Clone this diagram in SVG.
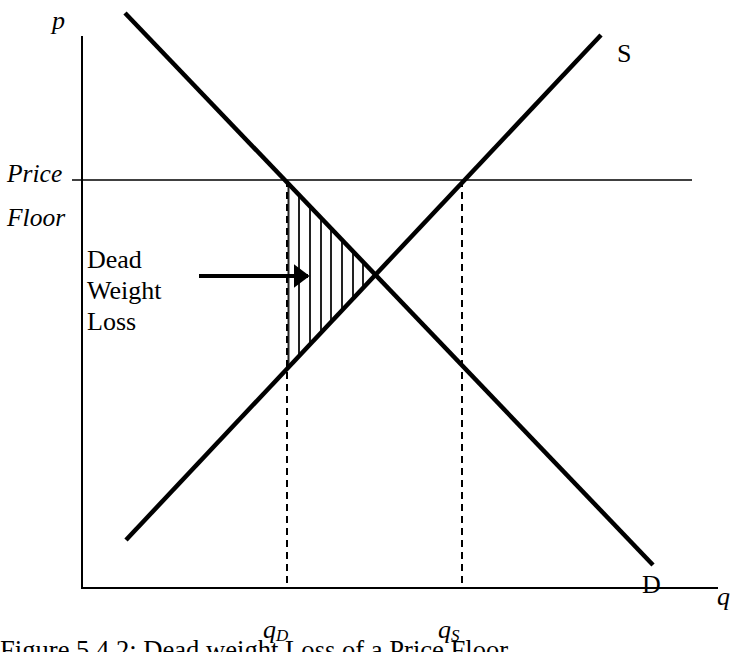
<svg xmlns="http://www.w3.org/2000/svg" width="731" height="652" viewBox="0 0 731 652">
<style>
.t{font-family:"Liberation Serif","Times New Roman",serif;fill:#000}
.i{font-style:italic}
.thick{stroke:#000;stroke-width:4.5;fill:none}
.axis{stroke:#000;stroke-width:2;fill:none}
.dash{stroke:#000;stroke-width:2;stroke-dasharray:7 5;fill:none}
.hatch{stroke:#222;stroke-width:2}
</style>
<defs>
<marker id="ah" markerWidth="4" markerHeight="6" refX="3.6" refY="3" orient="auto" markerUnits="strokeWidth">
<path d="M0,0 L4,3 L0,6 Z" fill="#000"/>
</marker>
</defs>
<g id="hatching">
<line class="hatch" x1="288.5" y1="182" x2="288.5" y2="367"/>
<line class="hatch" x1="299" y1="193" x2="299" y2="357"/>
<line class="hatch" x1="310" y1="205" x2="310" y2="345"/>
<line class="hatch" x1="321" y1="217" x2="321" y2="333"/>
<line class="hatch" x1="331" y1="228" x2="331" y2="322"/>
<line class="hatch" x1="342" y1="240" x2="342" y2="311"/>
<line class="hatch" x1="353" y1="251" x2="353" y2="299"/>
<line class="hatch" x1="363" y1="262" x2="363" y2="288"/>
</g>
<g id="axes">
<line class="axis" x1="82" y1="36" x2="82" y2="588"/>
<line class="axis" x1="81" y1="588" x2="718" y2="588"/>
</g>
<g id="price-floor">
<line x1="72" y1="180" x2="692" y2="180" stroke="#000" stroke-width="1.6"/>
</g>
<g id="connectors">
<line class="dash" x1="287" y1="180" x2="287" y2="588"/>
<line class="dash" x1="462" y1="180" x2="462" y2="588"/>
<line x1="199" y1="276" x2="308" y2="276" stroke="#000" stroke-width="4" marker-end="url(#ah)"/>
</g>
<g id="demand">
<line class="thick" x1="125" y1="13" x2="653" y2="565"/>
</g>
<g id="supply">
<line class="thick" x1="126" y1="540" x2="601" y2="35"/>
</g>
<g id="labels">
<text class="t i" x="52" y="29" font-size="26">p</text>
<text class="t i" x="7" y="182" font-size="25.5">Price</text>
<text class="t i" x="7" y="226" font-size="25.5">Floor</text>
<text class="t" x="87" y="268" font-size="26">Dead</text>
<text class="t" x="87" y="299" font-size="26">Weight</text>
<text class="t" x="87" y="330" font-size="26">Loss</text>
<text class="t" x="617" y="62" font-size="26">S</text>
<text class="t" x="642" y="593" font-size="26">D</text>
<text class="t i" x="717" y="605" font-size="26">q</text>
<text class="t i" x="263" y="638" font-size="26">q<tspan font-size="17" dy="3">D</tspan></text>
<text class="t i" x="438" y="638" font-size="26">q<tspan font-size="17" dy="3">S</tspan></text>
<text class="t" x="0" y="659" font-size="26.6">Figure 5.4.2: Dead weight Loss of a Price Floor</text>
</g>
</svg>
